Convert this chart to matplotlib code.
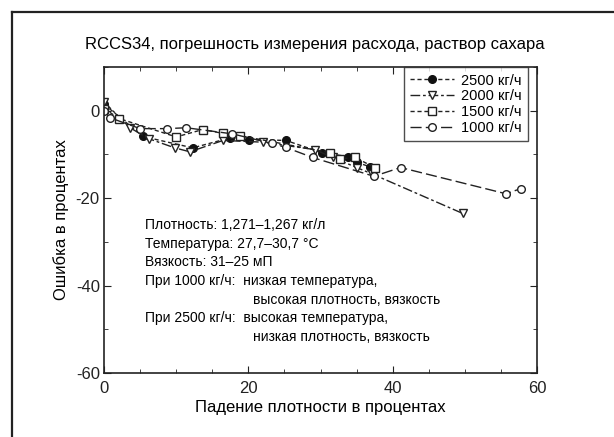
import matplotlib
matplotlib.use("Agg")
import matplotlib.pyplot as plt
from matplotlib.lines import Line2D
from matplotlib.ticker import MultipleLocator

plt.rcParams['font.family'] = ['Liberation Sans', 'DejaVu Sans']
plt.rcParams['axes.unicode_minus'] = False

# =====================
# DATA
# =====================
x_2500 = [0, 5.4, 12.3, 17.5, 20.1, 25.2, 30.2, 33.8, 35.0, 36.8, 37.4]
y_2500 = [1.5, -5.9, -8.5, -6.2, -6.6, -6.8, -9.6, -10.5, -11.8, -12.8, -13.0]

x_2000 = [0, 3.6, 6.2, 9.8, 11.9, 16.5, 22.0, 29.2, 31.7, 35.0, 37.2, 49.7]
y_2000 = [2.0, -3.9, -6.4, -8.5, -9.4, -6.8, -7.2, -8.9, -10.7, -13.0, -14.5, -23.5]

x_1500 = [0, 2.1, 10.0, 13.7, 16.5, 18.8, 31.3, 32.7, 34.8, 37.5]
y_1500 = [0.5, -1.8, -6.0, -4.3, -5.2, -5.7, -9.6, -11.0, -10.7, -13.0]

x_1000 = [0, 0.8, 5.0, 8.7, 11.4, 17.8, 23.3, 25.2, 28.9, 37.4, 41.1, 55.7, 57.8]
y_1000 = [0.0, -1.6, -4.1, -4.1, -3.9, -5.3, -7.5, -8.4, -10.7, -15.0, -13.0, -19.0, -17.8]

labels = ["2500 кг/ч", "2000 кг/ч", "1500 кг/ч", "1000 кг/ч"]

notes = [
    "Плотность: 1,271–1,267 кг/л",
    "Температура: 27,7–30,7 °C",
    "Вязкость: 31–25 мП",
    "При 1000 кг/ч:  низкая температура,",
    "",
    "При 2500 кг/ч:  высокая температура,",
    "",
]
notes_indent = {4: "высокая плотность, вязкость", 6: "низкая плотность, вязкость"}

# =====================
# PLOT
# =====================
fig = plt.figure(figsize=(6.14, 4.37), dpi=100)
ax = fig.add_axes([0.1694, 0.1465, 0.7052, 0.7002])

# outer frame (left and top edges only visible)
fig.add_artist(Line2D([12/614, 12/614], [0, 1 - 12/437], transform=fig.transFigure, color="#222222", lw=1.6))
fig.add_artist(Line2D([12/614, 1], [1 - 12/437, 1 - 12/437], transform=fig.transFigure, color="#222222", lw=1.6))

ms = 5.5
ax.plot(x_2500, y_2500, color="#222222", lw=1.0, dashes=(3, 2), marker="o", ms=ms,
        mfc="#111111", mec="#111111", label=labels[0])
ax.plot(x_2000, y_2000, color="#222222", lw=1.0, dashes=(7, 2, 2, 2), marker="v", ms=ms,
        mfc="white", mec="#222222", label=labels[1])
ax.plot(x_1500, y_1500, color="#222222", lw=1.0, dashes=(3, 2), marker="s", ms=ms,
        mfc="white", mec="#222222", label=labels[2])
ax.plot(x_1000, y_1000, color="#222222", lw=1.0, dashes=(8, 3), marker="o", ms=ms,
        mfc="white", mec="#222222", label=labels[3])

ax.set_xlim(0, 60)
ax.set_ylim(-60, 10)
ax.xaxis.set_major_locator(MultipleLocator(20))
ax.xaxis.set_minor_locator(MultipleLocator(5))
ax.yaxis.set_major_locator(MultipleLocator(20))
ax.yaxis.set_minor_locator(MultipleLocator(10))
ax.tick_params(which="both", direction="in", top=True, right=True, labelsize=12,
               colors="#222222")
ax.tick_params(axis="x", pad=6)
ax.tick_params(axis="y", pad=3)
ax.tick_params(which="major", length=5)
ax.tick_params(which="minor", length=3)
for s in ax.spines.values():
    s.set_linewidth(1.2)
    s.set_color("#222222")

ax.set_xlabel("Падение плотности в процентах", fontsize=12, labelpad=3)
ax.set_ylabel("Ошибка в процентах", fontsize=12, labelpad=5)
fig.text(0.512, 1 - 45/437, "RCCS34, погрешность измерения расхода, раствор сахара",
         ha="center", va="center", fontsize=12)

leg = ax.legend(loc="upper right", bbox_to_anchor=(0.98, 1.0), borderaxespad=0, fontsize=10.5,
                frameon=True, fancybox=False, handlelength=3.0, handletextpad=0.5,
                borderpad=0.45, labelspacing=0.12)
leg.get_frame().set_edgecolor("#222222")
leg.get_frame().set_linewidth(1.0)

y0 = 0.484
dy = 18.7 / 306
for i, line in enumerate(notes):
    if line:
        ax.text(0.095, y0 - i*dy, line, transform=ax.transAxes, fontsize=10, va="center", ha="left")
    if i in notes_indent:
        ax.text(0.344, y0 - i*dy, notes_indent[i], transform=ax.transAxes, fontsize=10, va="center", ha="left")

fig.savefig("out.png", dpi=100)
